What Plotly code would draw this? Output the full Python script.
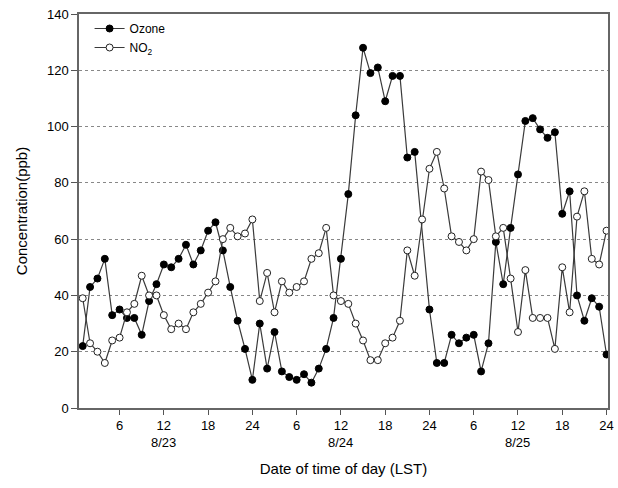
import plotly.graph_objects as go

hours = list(range(1, 73))
ozone = [22, 43, 46, 53, 33, 35, 32, 32, 26, 38, 44, 51, 50, 53, 58, 51, 56, 63, 66, 56,
         43, 31, 21, 10, 30, 14, 27, 13, 11, 10, 12, 9, 14, 21, 32, 53, 76, 104, 128, 119,
         121, 109, 118, 118, 89, 91, None, 35, 16, 16, 26, 23, 25, 26, 13, 23, 59, 44, 64, 83,
         102, 103, 99, 96, 98, 69, 77, 40, 31, 39, 36, 19]
no2 = [39, 23, 20, 16, 24, 25, 34, 37, 47, 40, 40, 33, 28, 30, 28, 34, 37, 41, 45, 60,
       64, 61, 62, 67, 38, 48, 34, 45, 41, 43, 45, 53, 55, 64, 40, 38, 37, 30, 24, 17,
       17, 23, 25, 31, 56, 47, 67, 85, 91, 78, 61, 59, 56, 60, 84, 81, 61, 64, 46, 27,
       49, 32, 32, 32, 21, 50, 34, 68, 77, 53, 51, 63]
tick_vals = list(range(6, 73, 6))
tick_text = ["6", "12", "18", "24"] * 3
dates = ["8/23", "8/24", "8/25"]
date_pos = [12, 36, 60]

FONT = "Liberation Sans, Arial, sans-serif"
LINE = "#3a3a3a"

fig = go.Figure()
fig.add_trace(go.Scatter(
    x=hours, y=ozone, name="Ozone", mode="lines+markers", connectgaps=True,
    line=dict(color=LINE, width=1.2),
    marker=dict(symbol="circle", size=7, color="black", line=dict(color="black", width=1)),
))
fig.add_trace(go.Scatter(
    x=hours, y=no2, name="NO<sub>2</sub>", mode="lines+markers",
    line=dict(color=LINE, width=1.2),
    marker=dict(symbol="circle", size=7, color="white", line=dict(color="#222", width=1)),
))

for d, p in zip(dates, date_pos):
    fig.add_annotation(x=p, y=-0.087, xref="x", yref="paper", text=d, showarrow=False,
                       font=dict(family=FONT, size=13, color="black"), yanchor="middle")

fig.update_layout(
    width=618, height=488,
    margin=dict(l=79, r=4, t=14, b=80),
    paper_bgcolor="white", plot_bgcolor="white",
    font=dict(family=FONT, size=13, color="black"),
    showlegend=True,
    legend=dict(x=0.02, y=1.0, xanchor="left", yanchor="top", bgcolor="rgba(0,0,0,0)",
                font=dict(family=FONT, size=12), itemwidth=30, tracegroupgap=0),
    xaxis=dict(range=[0.5, 72.2], tickmode="array", tickvals=tick_vals, ticktext=tick_text,
               ticks="outside", ticklen=5, tickcolor="#555", showgrid=False, zeroline=False,
               showline=True, linecolor="#666", linewidth=1.5, mirror=True,
               title=dict(text="Date of time of day (LST)", font=dict(family=FONT, size=15), standoff=31),
               tickfont=dict(family=FONT, size=13)),
    yaxis=dict(range=[0, 140], tickvals=list(range(0, 141, 20)), ticks="outside", ticklen=6,
               tickcolor="#555", showgrid=True, gridcolor="#888", griddash="dot", gridwidth=1,
               zeroline=False, showline=True, linecolor="#666", linewidth=1.5, mirror=True,
               title=dict(text="Concentration(ppb)", font=dict(family=FONT, size=15), standoff=16),
               tickfont=dict(family=FONT, size=13)),
)

fig.write_html("out.html", config={"displayModeBar": False},
               post_script="document.body.style.margin='0';document.body.style.overflow='hidden';")
